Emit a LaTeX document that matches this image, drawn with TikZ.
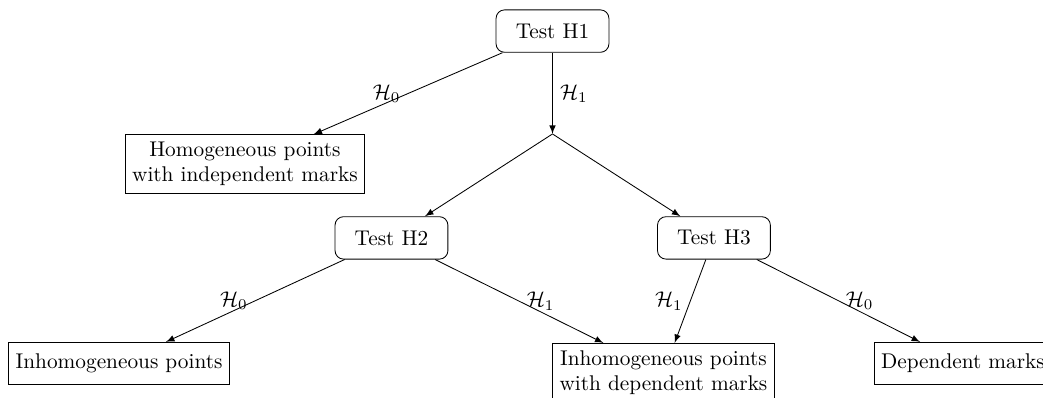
\documentclass[tikz,border=0pt]{standalone}
\usepackage{amsmath}
\usepackage{tikz}
\usepackage{amssymb}
\tikzstyle{test} = [rectangle, draw, rounded corners, minimum width=53pt, minimum height=0.7cm]
\tikzstyle{result} = [rectangle, draw, align=center, minimum height=0.7cm]

\begin{document}
\begin{tikzpicture}[>=latex]
  \useasboundingbox (0pt, 0pt) rectangle (489.7pt, -186.4pt);
  \draw (259.4pt, -14.6pt)node[test](h1){Test H1};
  \draw (115.0pt, -77.0pt)node[result](homog){Homogeneous points\\with independent marks};
  \draw (259.4pt, -62.9pt)coordinate(split);
  \draw (183.8pt, -111.7pt)node[test](h2){Test H2};
  \draw (335.2pt, -111.7pt)node[test](h3){Test H3};
  \draw (55.9pt, -170.7pt)node[result](inhom){Inhomogeneous points};
  \draw (311.5pt, -175.0pt)node[result](inhomdep){Inhomogeneous points\\with dependent marks};
  \draw (452.1pt, -170.7pt)node[result](dep){Dependent marks};
  \path[->] (h1) edge node[left]{$\mathcal{H}_0$}(homog);
  \path[->] (h1) edge node[right]{$\mathcal{H}_1$}(split);
  \path[->] (split) edge (h2);
  \path[->] (split) edge (h3);
  \path[->] (h2) edge node[left]{$\mathcal{H}_0$}(inhom);
  \path[->] (h2) edge node[right]{$\mathcal{H}_1$}(inhomdep);
  \path[->] (h3) edge node[left]{$\mathcal{H}_1$}(inhomdep);
  \path[->] (h3) edge node[right]{$\mathcal{H}_0$}(dep);
\end{tikzpicture}
\end{document}
